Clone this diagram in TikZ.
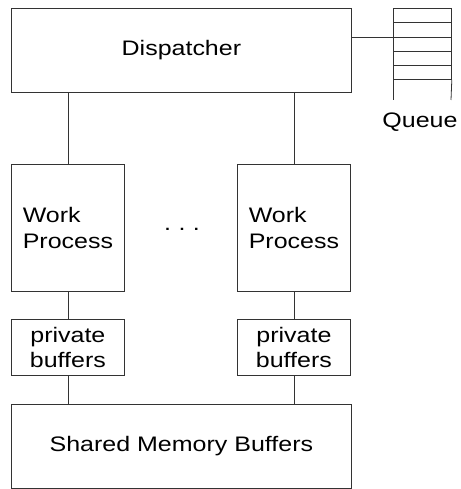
\documentclass[tikz,border=0pt]{standalone}
\usepackage{fontspec}
\setmainfont[FakeStretch=1.19]{Liberation Sans}
\begin{document}
\begin{tikzpicture}[x=1pt,y=-1pt,
  box/.style={draw=black!80, line width=0.8pt, rectangle, inner sep=0pt,
    anchor=north west, font=\fontsize{21}{25.5}\selectfont, align=center},
  wire/.style={draw=black!80, line width=0.8pt},
  lbl/.style={font=\fontsize{21}{25.5}\selectfont, inner sep=0pt, anchor=base}]
\useasboundingbox (0,0) rectangle (460,489);

% dispatcher on top
\node[box, minimum width=340, minimum height=84] (disp) at (11,8) {Dispatcher};

% work processes
\node[box, align=left, minimum width=113, minimum height=127] (w1) at (11,164) {Work\\Process};
\node[box, align=left, minimum width=113, minimum height=127] (w2) at (237,164) {Work\\Process};
\node[lbl] (dots) at (182,230) {.\hspace{7.5pt}.\hspace{7.5pt}.};

% private buffers
\node[box, minimum width=113, minimum height=56] (p1) at (11,319) {private\\buffers};
\node[box, minimum width=113, minimum height=56] (p2) at (237,319) {private\\buffers};

% shared memory
\node[box, minimum width=340, minimum height=84] (sm) at (11,404) {Shared Memory Buffers};

% request queue
\node[box, minimum width=58, minimum height=71] (q) at (393,8) {};
\foreach \yy in {22,37,51,65}
  \draw[wire] (393,\yy) -- (451,\yy);
\coordinate (qtl) at (393,100);
\coordinate (qtr) at (451,100);
\draw[wire] (q.south west) -- (qtl);
\draw[wire] (q.south east) -- (qtr);
\node[lbl] (qlabel) at (420,128) {Queue};

% connections
\coordinate (qin) at (393,37);
\draw[wire] (disp.east |- qin) -- (qin);
\draw[wire] (w1.north |- disp.south) -- (w1.north);
\draw[wire] (w2.north |- disp.south) -- (w2.north);
\draw[wire] (w1.south) -- (p1.north);
\draw[wire] (w2.south) -- (p2.north);
\draw[wire] (p1.south) -- (p1.south |- sm.north);
\draw[wire] (p2.south) -- (p2.south |- sm.north);
\end{tikzpicture}
\end{document}
